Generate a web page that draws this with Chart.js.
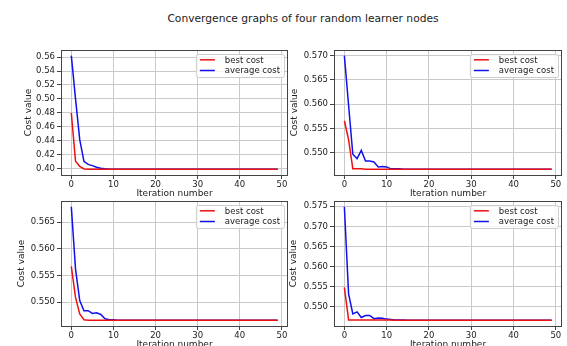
<!DOCTYPE html>
<html>
<head>
<meta charset="utf-8">
<script src="https://cdn.jsdelivr.net/npm/chart.js@4.4.1/dist/chart.umd.min.js"></script>
<style>
  html, body { margin: 0; padding: 0; background: #fff; width: 567px; height: 346px; overflow: hidden; }
  #title { position: absolute; left: 0; width: 606px; top: 12px; text-align: center;
           font: 10.7px "DejaVu Sans"; color: #222; }
  .box { position: absolute; }
</style>
</head>
<body>
<div id="title">Convergence graphs of four random learner nodes</div>
<div class="box" style="left:0px;top:40px;width:290px;height:162px"><canvas id="c1"></canvas></div>
<div class="box" style="left:273px;top:40px;width:291px;height:162px"><canvas id="c2"></canvas></div>
<div class="box" style="left:0px;top:191px;width:290px;height:162px"><canvas id="c3"></canvas></div>
<div class="box" style="left:273px;top:191px;width:291px;height:162px"><canvas id="c4"></canvas></div>
<script>
// iterations 0..49
const iterations = Array.from({length: 50}, (_, i) => i);
const xTicks = [0, 10, 20, 30, 40, 50];

// node 1 (top left)
const best1 = [
  0.4800, 0.4105, 0.4033, 0.3995, 0.3992, 0.3991, 0.3990, 0.3990, 0.3990, 0.3990,
  0.3990, 0.3990, 0.3990, 0.3990, 0.3990, 0.3990, 0.3990, 0.3990, 0.3990, 0.3990,
  0.3990, 0.3990, 0.3990, 0.3990, 0.3990, 0.3990, 0.3990, 0.3990, 0.3990, 0.3990,
  0.3990, 0.3990, 0.3990, 0.3990, 0.3990, 0.3990, 0.3990, 0.3990, 0.3990, 0.3990,
  0.3990, 0.3990, 0.3990, 0.3990, 0.3990, 0.3990, 0.3990, 0.3990, 0.3990, 0.3990
];
const avg1 = [
  0.5620, 0.5000, 0.4415, 0.4105, 0.4060, 0.4043, 0.4020, 0.4005, 0.3998, 0.3994,
  0.3992, 0.3991, 0.3990, 0.3990, 0.3990, 0.3990, 0.3990, 0.3990, 0.3990, 0.3990,
  0.3990, 0.3990, 0.3990, 0.3990, 0.3990, 0.3990, 0.3990, 0.3990, 0.3990, 0.3990,
  0.3990, 0.3990, 0.3990, 0.3990, 0.3990, 0.3990, 0.3990, 0.3990, 0.3990, 0.3990,
  0.3990, 0.3990, 0.3990, 0.3990, 0.3990, 0.3990, 0.3990, 0.3990, 0.3990, 0.3990
];
const yTicks1 = [0.40, 0.42, 0.44, 0.46, 0.48, 0.50, 0.52, 0.54, 0.56];

// node 2 (top right)
const best2 = [
  0.5566, 0.5527, 0.5467, 0.5467, 0.5467, 0.5466, 0.5466, 0.5466, 0.5466, 0.5466,
  0.5466, 0.5466, 0.5466, 0.5466, 0.5466, 0.5466, 0.5466, 0.5466, 0.5466, 0.5466,
  0.5466, 0.5466, 0.5466, 0.5466, 0.5466, 0.5466, 0.5466, 0.5466, 0.5466, 0.5466,
  0.5466, 0.5466, 0.5466, 0.5466, 0.5466, 0.5466, 0.5466, 0.5466, 0.5466, 0.5466,
  0.5466, 0.5466, 0.5466, 0.5466, 0.5466, 0.5466, 0.5466, 0.5466, 0.5466, 0.5466
];
const avg2 = [
  0.5700, 0.5598, 0.5497, 0.5488, 0.5505, 0.5483, 0.5483, 0.5481, 0.5471, 0.5472,
  0.5471, 0.5467, 0.5467, 0.5467, 0.5466, 0.5466, 0.5466, 0.5466, 0.5466, 0.5466,
  0.5466, 0.5466, 0.5466, 0.5466, 0.5466, 0.5466, 0.5466, 0.5466, 0.5466, 0.5466,
  0.5466, 0.5466, 0.5466, 0.5466, 0.5466, 0.5466, 0.5466, 0.5466, 0.5466, 0.5466,
  0.5466, 0.5466, 0.5466, 0.5466, 0.5466, 0.5466, 0.5466, 0.5466, 0.5466, 0.5466
];
const yTicks2 = [0.550, 0.555, 0.560, 0.565, 0.570];

// node 3 (bottom left)
const best3 = [
  0.5567, 0.5509, 0.5478, 0.5467, 0.5466, 0.5466, 0.5466, 0.5466, 0.5466, 0.5466,
  0.5466, 0.5466, 0.5466, 0.5466, 0.5466, 0.5466, 0.5466, 0.5466, 0.5466, 0.5466,
  0.5466, 0.5466, 0.5466, 0.5466, 0.5466, 0.5466, 0.5466, 0.5466, 0.5466, 0.5466,
  0.5466, 0.5466, 0.5466, 0.5466, 0.5466, 0.5466, 0.5466, 0.5466, 0.5466, 0.5466,
  0.5466, 0.5466, 0.5466, 0.5466, 0.5466, 0.5466, 0.5466, 0.5466, 0.5466, 0.5466
];
const avg3 = [
  0.5679, 0.5562, 0.5503, 0.5484, 0.5484, 0.5479, 0.5480, 0.5477, 0.5469, 0.5467,
  0.5467, 0.5466, 0.5466, 0.5466, 0.5466, 0.5466, 0.5466, 0.5466, 0.5466, 0.5466,
  0.5466, 0.5466, 0.5466, 0.5466, 0.5466, 0.5466, 0.5466, 0.5466, 0.5466, 0.5466,
  0.5466, 0.5466, 0.5466, 0.5466, 0.5466, 0.5466, 0.5466, 0.5466, 0.5466, 0.5466,
  0.5466, 0.5466, 0.5466, 0.5466, 0.5466, 0.5466, 0.5466, 0.5466, 0.5466, 0.5466
];
const yTicks3 = [0.550, 0.555, 0.560, 0.565];

// node 4 (bottom right)
const best4 = [
  0.5548, 0.5467, 0.5467, 0.5467, 0.5467, 0.5467, 0.5467, 0.5467, 0.5467, 0.5467,
  0.5467, 0.5467, 0.5466, 0.5466, 0.5466, 0.5466, 0.5466, 0.5466, 0.5466, 0.5466,
  0.5466, 0.5466, 0.5466, 0.5466, 0.5466, 0.5466, 0.5466, 0.5466, 0.5466, 0.5466,
  0.5466, 0.5466, 0.5466, 0.5466, 0.5466, 0.5466, 0.5466, 0.5466, 0.5466, 0.5466,
  0.5466, 0.5466, 0.5466, 0.5466, 0.5466, 0.5466, 0.5466, 0.5466, 0.5466, 0.5466
];
const avg4 = [
  0.5749, 0.5532, 0.5482, 0.5487, 0.5473, 0.5478, 0.5478, 0.5470, 0.5472, 0.5471,
  0.5469, 0.5468, 0.5467, 0.5467, 0.5467, 0.5466, 0.5466, 0.5466, 0.5466, 0.5466,
  0.5466, 0.5466, 0.5466, 0.5466, 0.5466, 0.5466, 0.5466, 0.5466, 0.5466, 0.5466,
  0.5466, 0.5466, 0.5466, 0.5466, 0.5466, 0.5466, 0.5466, 0.5466, 0.5466, 0.5466,
  0.5466, 0.5466, 0.5466, 0.5466, 0.5466, 0.5466, 0.5466, 0.5466, 0.5466, 0.5466
];
const yTicks4 = [0.550, 0.555, 0.560, 0.565, 0.570, 0.575];

Chart.defaults.font.family = 'DejaVu Sans';
Chart.defaults.font.size = 8.5;
Chart.defaults.color = '#222';

// frame around plot area (matplotlib spines)
const frame = {
  id: 'frame',
  afterDatasetsDraw(chart) {
    const {ctx, chartArea: a} = chart;
    ctx.save();
    ctx.strokeStyle = '#444';
    ctx.lineWidth = 1;
    ctx.strokeRect(Math.round(a.left) + 0.5, Math.round(a.top) + 0.5,
                   Math.round(a.right - a.left) - 1, Math.round(a.bottom - a.top));
    ctx.restore();
  }
};

// legend box in the upper right corner
const boxLegend = {
  id: 'boxLegend',
  afterDraw(chart) {
    const {ctx, chartArea: a} = chart;
    const dss = chart.data.datasets;
    ctx.save();
    ctx.font = '8.5px "DejaVu Sans"';
    const tw = Math.max(...dss.map(d => ctx.measureText(d.label).width));
    const w = 29 + tw + 4, h = 23;
    const x = a.right - 4 - w, y = a.top + 4;
    ctx.beginPath();
    ctx.roundRect(x + 0.5, y + 0.5, w, h, 2);
    ctx.fillStyle = 'rgba(255,255,255,0.8)';
    ctx.fill();
    ctx.strokeStyle = '#cccccc';
    ctx.lineWidth = 1;
    ctx.stroke();
    dss.forEach((d, i) => {
      const ry = y + 5.8 + i * 10.7;
      ctx.beginPath();
      ctx.moveTo(x + 4, ry);
      ctx.lineTo(x + 19, ry);
      ctx.strokeStyle = d.borderColor;
      ctx.lineWidth = 1.5;
      ctx.stroke();
      ctx.fillStyle = '#222';
      ctx.textBaseline = 'middle';
      ctx.fillText(d.label, x + 29, ry + 0.5);
    });
    ctx.restore();
  }
};

function makeChart(id, best, avg, yTicks, yDecimals, yTitlePad) {
  const all = best.concat(avg);
  const lo = Math.min(...all), hi = Math.max(...all);
  const m = (hi - lo) * 0.05;
  new Chart(document.getElementById(id), {
    type: 'line',
    data: {
      labels: iterations,
      datasets: [
        {label: 'best cost', data: best, borderColor: '#ee1111', borderWidth: 1.5,
         pointRadius: 0, tension: 0, fill: false},
        {label: 'average cost', data: avg, borderColor: '#1111ee', borderWidth: 1.5,
         pointRadius: 0, tension: 0, fill: false}
      ]
    },
    options: {
      responsive: true,
      maintainAspectRatio: false,
      animation: false,
      layout: {padding: {top: 10, right: 2, left: 0, bottom: 0}},
      plugins: {legend: {display: false}, tooltip: {enabled: false}},
      scales: {
        x: {
          type: 'linear', min: -2.45, max: 51.45,
          afterBuildTicks: s => { s.ticks = xTicks.map(v => ({value: v})); },
          afterFit: s => { s.height = 27; },
          ticks: {padding: 1, maxRotation: 0, callback: v => String(v)},
          grid: {color: '#c9c9c9', lineWidth: 1, drawTicks: true, tickLength: 4, tickColor: '#444'},
          border: {display: false},
          title: {display: true, text: 'Iteration number', font: {size: 9}, padding: {top: 0, bottom: 3}}
        },
        y: {
          min: lo - m, max: hi + m,
          afterBuildTicks: s => { s.ticks = yTicks.map(v => ({value: v})); },
          afterFit: s => { s.width = 61; },
          ticks: {padding: 2, callback: v => v.toFixed(yDecimals)},
          grid: {color: '#c9c9c9', lineWidth: 1, drawTicks: true, tickLength: 4, tickColor: '#444'},
          border: {display: false},
          title: {display: true, text: 'Cost value', font: {size: 9}, padding: {top: yTitlePad, bottom: 0}}
        }
      }
    },
    plugins: [frame, boxLegend]
  });
}

makeChart('c1', best1, avg1, yTicks1, 2, 23);
makeChart('c2', best2, avg2, yTicks2, 3, 16);
makeChart('c3', best3, avg3, yTicks3, 3, 16);
makeChart('c4', best4, avg4, yTicks4, 3, 15);
</script>
</body>
</html>
